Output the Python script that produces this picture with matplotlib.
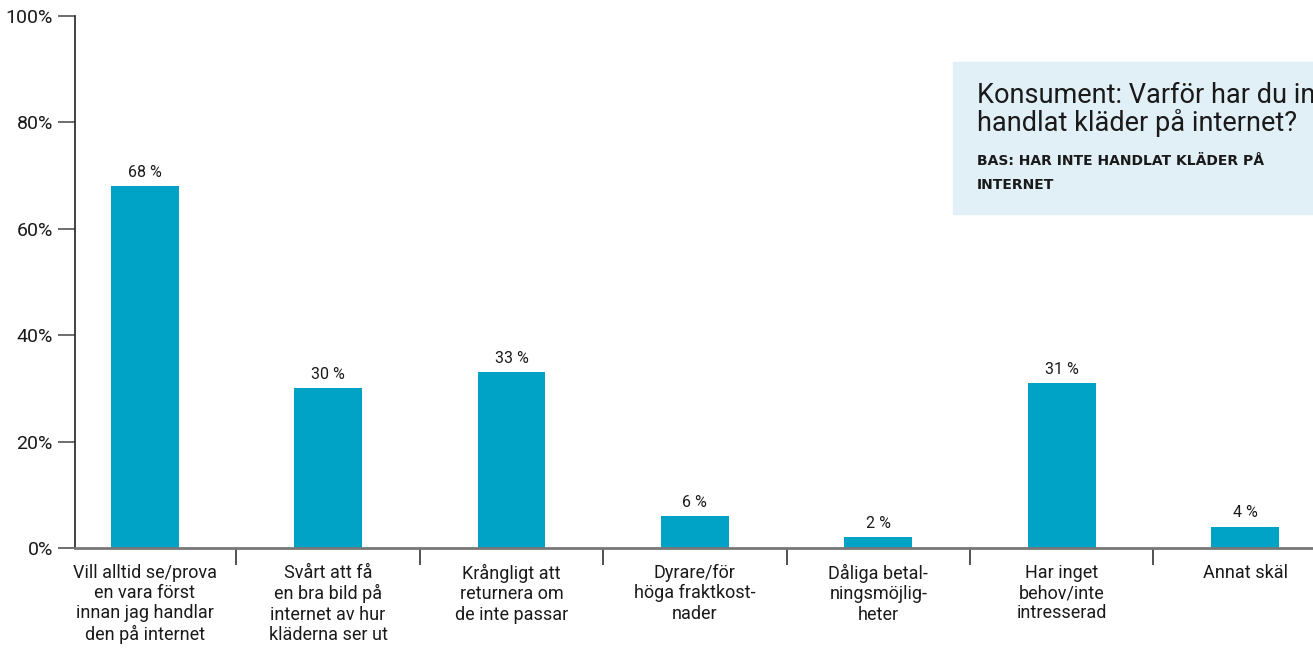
import matplotlib.pyplot as plt
from matplotlib.patches import Rectangle
from matplotlib import font_manager

# survey answers, share of respondents in percent
categories = [
    "Vill alltid se/prova\nen vara först\ninnan jag handlar\nden på internet",
    "Svårt att få\nen bra bild på\ninternet av hur\nkläderna ser ut",
    "Krångligt att\nreturnera om\nde inte passar",
    "Dyrare/för\nhöga fraktkost-\nnader",
    "Dåliga betal-\nningsmöjlig-\nheter",
    "Har inget\nbehov/inte\nintresserad",
    "Annat skäl",
]
values = [68, 30, 33, 6, 2, 31, 4]
yticks = [0, 20, 40, 60, 80, 100]

title = "Konsument: Varför har du inte\nhandlat kläder på internet?"
subtitle = "BAS: HAR INTE HANDLAT KLÄDER PÅ\nINTERNET"

names = {f.name for f in font_manager.fontManager.ttflist}
narrow = "Liberation Sans Narrow" if "Liberation Sans Narrow" in names else "Roboto"
plt.rcParams['font.family'] = [narrow, 'DejaVu Sans']

bar_color = "#00a2c6"
text_color = "#1a1a1a"

W, H = 1313, 652
fig = plt.figure(figsize=(W / 100, H / 100), dpi=100)
ax = fig.add_axes([75 / W, 1 - 548 / H, (W - 75) / W, 532 / H])

x = list(range(len(values)))
bars = ax.bar(x, values, width=0.37, color=bar_color, zorder=2)
for xi, v in zip(x, values):
    ax.text(xi, v + 1.2, f"{v} %", ha="center", va="bottom",
            fontsize=11.5, color=text_color)

ax.set_ylim(0, 100)
ax.set_xlim(-0.38, 6.37)
ax.set_yticks(yticks)
ax.set_yticklabels([f"{t}%" for t in yticks], fontsize=14, color=text_color)
ax.tick_params(axis="y", length=12, width=1.2, color="#555555", pad=4)

# category separators as ticks, labels in the middle of each slot
ax.set_xticks([i + 0.5 for i in range(len(values) - 1)])
ax.set_xticklabels([])
ax.tick_params(axis="x", length=12, width=1.2, color="#333333")
for xi, lab in zip(x, categories):
    ax.text(xi, -3.0, lab, ha="center", va="top", fontsize=13,
            color=text_color, linespacing=1.16)

for s in ["top", "right"]:
    ax.spines[s].set_visible(False)
ax.spines["left"].set_color("#222222")
ax.spines["left"].set_linewidth(1.2)
ax.spines["bottom"].set_color("#777777")
ax.spines["bottom"].set_linewidth(2)
ax.spines["left"].set_bounds(0, 100)

# title panel in the upper right corner
fig.patches.append(Rectangle((953 / W, 1 - 214 / H), (W - 953) / W, 152 / H,
                             transform=fig.transFigure, color="#e1eff6", zorder=0))
fig.text(977 / W, 1 - 82 / H, title, ha="left", va="top", fontsize=19.5,
         color=text_color, linespacing=0.98)
fig.text(977 / W, 1 - 154 / H, subtitle, ha="left", va="top", fontsize=10,
         fontweight="bold", color=text_color, linespacing=1.9,
         family=["DejaVu Sans"])

fig.savefig("out.png", dpi=100)
